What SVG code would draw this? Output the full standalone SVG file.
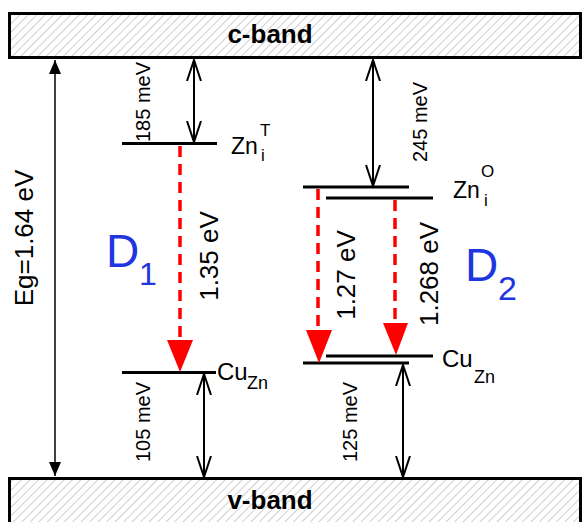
<svg xmlns="http://www.w3.org/2000/svg" width="582" height="522" viewBox="0 0 582 522">
<defs>
<pattern id="hatch" patternUnits="userSpaceOnUse" width="6" height="6" patternTransform="rotate(45)">
<rect width="6" height="6" fill="#fff"/>
<line x1="0" y1="0" x2="0" y2="6" stroke="#cfcfcf" stroke-width="2"/>
</pattern>
<marker id="fh" viewBox="0 0 14 12" refX="14" refY="6" markerWidth="14" markerHeight="12" markerUnits="userSpaceOnUse" orient="auto-start-reverse">
<path d="M0,0 L14,6 L0,12 Z" fill="#000"/>
</marker>
<marker id="oh" viewBox="0 0 22 16" refX="21" refY="8" markerWidth="22" markerHeight="16" markerUnits="userSpaceOnUse" orient="auto-start-reverse">
<path d="M0,1 L21,8 L0,15" fill="none" stroke="#000" stroke-width="2"/>
</marker>
</defs>
<style>
.band{fill:url(#hatch);stroke:#000;stroke-width:3}
.bl{font-family:"Liberation Sans",Arial,sans-serif;font-weight:bold;font-size:26px;text-anchor:middle;fill:#000}
.t{font-family:"Liberation Sans",Arial,sans-serif;fill:#000}
.lv{stroke:#000;stroke-width:3}
.da{stroke:#000;stroke-width:2;fill:none;marker-start:url(#oh);marker-end:url(#oh)}
.red{stroke:#f00;stroke-width:3.5;stroke-dasharray:11 7;fill:none}
.rh{fill:#f00}
.blue{font-family:"Liberation Sans",Arial,sans-serif;fill:#1f35e0}
.rot{text-anchor:middle}
</style>
<g id="cband">
<rect class="band" x="9.5" y="13.5" width="571" height="44"/>
<text class="bl" x="270" y="43">c-band</text>
</g>
<g id="vband">
<rect class="band" x="9.5" y="478.5" width="571" height="50"/>
<text class="bl" x="270" y="509">v-band</text>
</g>
<g id="ZniT">
<line class="lv" x1="122" y1="143.5" x2="217" y2="143.5"/>
<text class="t" x="231" y="154" font-size="23">Zn</text>
<text class="t" x="260" y="136" font-size="17">T</text>
<text class="t" x="261" y="161" font-size="17">i</text>
</g>
<g id="CuZn1">
<line class="lv" x1="122" y1="372.5" x2="216" y2="372.5"/>
<text class="t" x="217" y="380" font-size="24">Cu</text>
<text class="t" x="247" y="389" font-size="18">Zn</text>
</g>
<g id="ZniO">
<line class="lv" x1="303" y1="187" x2="409" y2="187"/>
<line class="lv" x1="326" y1="198" x2="433" y2="198"/>
<text class="t" x="453" y="198" font-size="23">Zn</text>
<text class="t" x="481" y="177" font-size="17">O</text>
<text class="t" x="484" y="206" font-size="17">i</text>
</g>
<g id="CuZn2">
<line class="lv" x1="326" y1="356" x2="433" y2="356"/>
<line class="lv" x1="303" y1="363" x2="409" y2="363"/>
<text class="t" x="442" y="367" font-size="24">Cu</text>
<text class="t" x="474" y="383" font-size="18">Zn</text>
</g>
<g id="D1">
<text class="blue" x="106" y="267" font-size="46">D</text>
<text class="blue" x="139" y="285" font-size="32">1</text>
</g>
<g id="D2">
<text class="blue" x="465" y="281" font-size="46">D</text>
<text class="blue" x="498" y="300" font-size="34">2</text>
</g>
<g id="connectors">
<line x1="55" y1="60" x2="55" y2="476" stroke="#000" stroke-width="1.5" marker-start="url(#fh)" marker-end="url(#fh)"/>
<line class="da" x1="194" y1="60" x2="194" y2="142"/>
<line class="da" x1="204" y1="374" x2="204" y2="477"/>
<line class="da" x1="373" y1="60" x2="373" y2="186"/>
<line class="da" x1="403" y1="365" x2="403" y2="477"/>
<line class="red" x1="180" y1="146" x2="180" y2="342"/>
<path class="rh" d="M167,340 L193,340 L180,372 Z"/>
<line class="red" x1="318" y1="189" x2="318" y2="332"/>
<path class="rh" d="M306,330 L332,330 L319,363 Z"/>
<line class="red" x1="395" y1="200" x2="395" y2="325"/>
<path class="rh" d="M383,323 L408,323 L396,355 Z"/>
</g>
<g id="labels">
<text class="t rot" font-size="26" transform="translate(33,238) rotate(-90)">Eg=1.64 eV</text>
<text class="t rot" font-size="20" transform="translate(150,102) rotate(-90)">185 meV</text>
<text class="t rot" font-size="20" transform="translate(427,122) rotate(-90)">245 meV</text>
<text class="t rot" font-size="20" transform="translate(150,422) rotate(-90)">105 meV</text>
<text class="t rot" font-size="20" transform="translate(357,422) rotate(-90)">125 meV</text>
<text class="t rot" font-size="26" transform="translate(218,256) rotate(-90)">1.35 eV</text>
<text class="t rot" font-size="26" transform="translate(355,275) rotate(-90)">1.27 eV</text>
<text class="t rot" font-size="26" transform="translate(438,274) rotate(-90)">1.268 eV</text>
</g>
</svg>
